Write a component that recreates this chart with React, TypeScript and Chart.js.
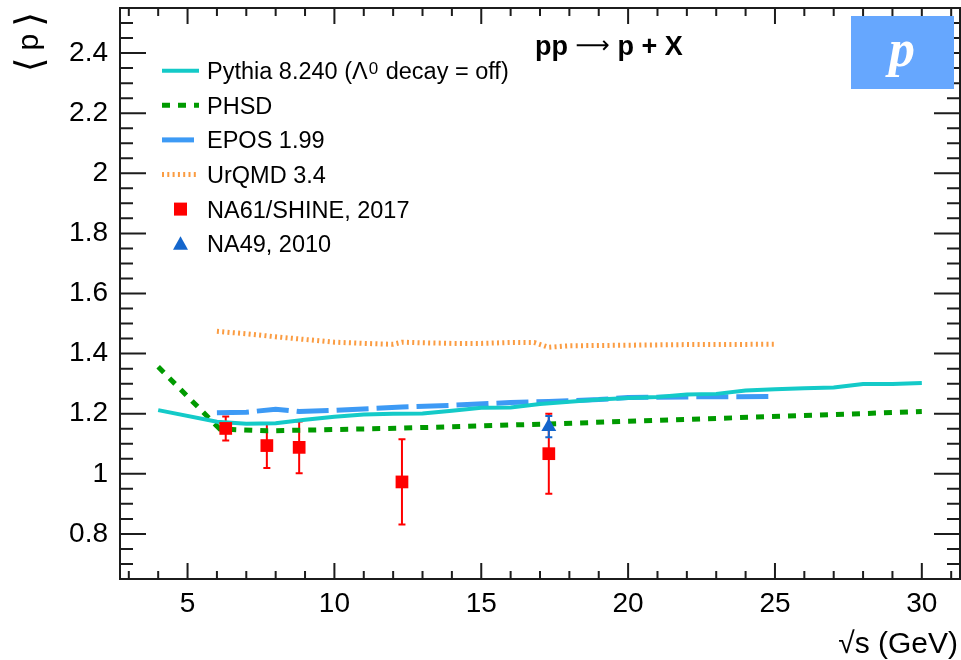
import React, { useEffect, useRef } from "react";
import { Chart, registerables } from "chart.js";

Chart.register(...registerables);

// ---------- data ----------
const xTickValues = [5, 10, 15, 20, 25, 30];
const yTickValues = [0.8, 1, 1.2, 1.4, 1.6, 1.8, 2, 2.2, 2.4];

const pythiaX = [4, 6, 7, 8, 9, 10, 11, 12, 13, 14, 15, 16, 17, 18, 19, 20, 21, 22, 23, 24, 25, 26, 27, 28, 29, 30];
const pythiaY = [1.212, 1.173, 1.167, 1.168, 1.18, 1.19, 1.197, 1.2, 1.201, 1.21, 1.22, 1.221, 1.232, 1.24, 1.247, 1.252, 1.256, 1.264, 1.266, 1.277, 1.281, 1.285, 1.287, 1.299, 1.299, 1.302];

const phsdX = [4, 6.1, 7.7, 8.8, 12.3, 17.3, 30];
const phsdY = [1.356, 1.149, 1.143, 1.145, 1.152, 1.166, 1.207];

const eposX = [6, 7, 8, 8.8, 10, 12.3, 14, 16, 17.3, 19, 20, 22, 25];
const eposY = [1.203, 1.205, 1.215, 1.207, 1.211, 1.222, 1.228, 1.237, 1.241, 1.247, 1.254, 1.256, 1.257];

const urqmdX = [6, 7, 8, 9, 10, 11, 12, 12.3, 13, 14, 15, 16, 16.8, 17.3, 18, 20, 22, 25];
const urqmdY = [1.474, 1.466, 1.456, 1.447, 1.438, 1.434, 1.431, 1.438, 1.436, 1.434, 1.434, 1.437, 1.437, 1.421, 1.426, 1.428, 1.43, 1.431];

const na61X = [6.3, 7.7, 8.8, 12.3, 17.3];
const na61Y = [1.151, 1.094, 1.088, 0.973, 1.067];
const na61Err = [0.04, 0.075, 0.086, 0.142, 0.133];

const na49X = [17.3];
const na49Y = [1.157];
const na49Err = [0.035];

const labels = [
  "Pythia 8.240 (Λ^{0} decay = off)",
  "PHSD",
  "EPOS 1.99",
  "UrQMD 3.4",
  "NA61/SHINE, 2017",
  "NA49, 2010",
];

// ---------- styling ----------
const FONT = '"Liberation Sans", Arial, Helvetica, sans-serif';
const C_PYTHIA = "#14cac8";
const C_PHSD = "#009a00";
const C_EPOS = "#3d9af5";
const C_URQMD = "#fb9c42";
const C_NA61 = "#ff0000";
const C_NA49 = "#1466cc";
const FRAME = "#1c1c1c";

const pts = (xs: number[], ys: number[]) => xs.map((x, i) => ({ x, y: ys[i] }));

const rootPlugin = {
  id: "rootStyle",
  beforeDatasetsDraw(chart: any) {
    const ctx = chart.ctx;
    const xs = chart.scales.x;
    const ys = chart.scales.y;
    const drawErr = (X: number[], Y: number[], E: number[], color: string) => {
      ctx.save();
      ctx.strokeStyle = color;
      ctx.lineWidth = 2;
      X.forEach((x, i) => {
        const px = xs.getPixelForValue(x);
        const p1 = ys.getPixelForValue(Y[i] - E[i]);
        const p2 = ys.getPixelForValue(Y[i] + E[i]);
        ctx.beginPath();
        ctx.moveTo(px, p1);
        ctx.lineTo(px, p2);
        ctx.moveTo(px - 3.5, p1);
        ctx.lineTo(px + 3.5, p1);
        ctx.moveTo(px - 3.5, p2);
        ctx.lineTo(px + 3.5, p2);
        ctx.stroke();
      });
      ctx.restore();
    };
    drawErr(na61X, na61Y, na61Err, C_NA61);
    drawErr(na49X, na49Y, na49Err, C_NA49);
  },
  afterDraw(chart: any) {
    const ctx = chart.ctx;
    const { left, right, top, bottom } = chart.chartArea;
    const xs = chart.scales.x;
    const ys = chart.scales.y;
    ctx.save();
    // frame
    ctx.strokeStyle = FRAME;
    ctx.lineWidth = 2;
    ctx.strokeRect(left, top, right - left, bottom - top);
    // x ticks (bottom & top)
    ctx.beginPath();
    for (let v = Math.ceil(xs.min); v <= xs.max; v += 1) {
      const px = xs.getPixelForValue(v);
      const major = xTickValues.includes(v);
      const len = major ? 16 : 8;
      ctx.moveTo(px, bottom);
      ctx.lineTo(px, bottom - len);
      ctx.moveTo(px, top);
      ctx.lineTo(px, top + len);
    }
    // y ticks (left & right)
    for (let k = Math.ceil(ys.min / 0.05 - 1e-6); k * 0.05 <= ys.max + 1e-6; k++) {
      const v = Math.round(k * 5) / 100;
      const py = ys.getPixelForValue(v);
      const major = yTickValues.some((t) => Math.abs(t - v) < 1e-6);
      const len = major ? 26 : 13;
      ctx.moveTo(left, py);
      ctx.lineTo(left + len, py);
      ctx.moveTo(right, py);
      ctx.lineTo(right - len, py);
    }
    ctx.stroke();

    // particle box
    ctx.fillStyle = "#66a7fe";
    ctx.fillRect(right - 109, top + 8, 103, 73);
    ctx.fillStyle = "#ffffff";
    ctx.font = 'italic bold 52px "Liberation Serif", "DejaVu Serif", serif';
    ctx.textAlign = "center";
    ctx.textBaseline = "alphabetic";
    ctx.fillText("p", right - 58, top + 58);

    // title
    ctx.fillStyle = "#000";
    ctx.textAlign = "left";
    let tx = left + 415;
    const ty = top + 47;
    ctx.font = `bold 27px ${FONT}`;
    ctx.fillText("pp ", tx, ty);
    tx += ctx.measureText("pp ").width;
    ctx.font = `24px "DejaVu Sans", sans-serif`;
    ctx.fillText("⟶", tx, ty - 2);
    tx += ctx.measureText("⟶").width;
    ctx.font = `bold 27px ${FONT}`;
    ctx.fillText(" p + X", tx, ty);

    // legend
    const ds = chart.data.datasets;
    const lx0 = left + 42;
    const lx1 = left + 79;
    const textX = left + 87;
    ds.forEach((d: any, i: number) => {
      const cy = top + 62.7 + i * 34.6;
      ctx.save();
      if (d.showLine !== false) {
        ctx.strokeStyle = d.borderColor;
        ctx.lineWidth = d.borderWidth;
        ctx.setLineDash(d.borderDash || []);
        ctx.lineCap = "butt";
        ctx.beginPath();
        ctx.moveTo(lx0, cy);
        ctx.lineTo(lx1, cy);
        ctx.stroke();
      } else {
        ctx.fillStyle = d.backgroundColor;
        const mx = (lx0 + lx1) / 2;
        if (d.pointStyle === "rect") {
          ctx.fillRect(mx - 6.5, cy - 6.5, 13, 13);
        } else {
          ctx.beginPath();
          ctx.moveTo(mx, cy - 7.5);
          ctx.lineTo(mx + 7.5, cy + 6);
          ctx.lineTo(mx - 7.5, cy + 6);
          ctx.closePath();
          ctx.fill();
        }
      }
      ctx.restore();
      // text with optional superscript
      ctx.fillStyle = "#000";
      ctx.textAlign = "left";
      ctx.textBaseline = "alphabetic";
      const base = cy + 8.5;
      const parts = String(d.label).split(/(\^\{[^}]*\})/);
      let x = textX;
      parts.forEach((p: string) => {
        if (!p) return;
        const m = p.match(/^\^\{([^}]*)\}$/);
        if (m) {
          ctx.font = `17px ${FONT}`;
          ctx.fillText(m[1], x + 1, base - 5);
          x += ctx.measureText(m[1]).width + 2;
        } else {
          ctx.font = `23.5px ${FONT}`;
          ctx.fillText(p, x, base);
          x += ctx.measureText(p).width;
        }
      });
    });

    // axis titles
    ctx.fillStyle = "#000";
    ctx.font = `30px ${FONT}`;
    ctx.textAlign = "right";
    ctx.textBaseline = "alphabetic";
    ctx.fillText("√s (GeV)", right - 2, 653);

    // y title: ⟨ p ⟩ rotated
    ctx.save();
    ctx.translate(30, top + 4);
    ctx.rotate(-Math.PI / 2);
    ctx.textBaseline = "middle";
    ctx.textAlign = "left";
    const bracketFont = `38px "DejaVu Sans", sans-serif`;
    const pFont = `30px ${FONT}`;
    ctx.font = bracketFont;
    const wl = ctx.measureText("⟨").width;
    const wr = ctx.measureText("⟩").width;
    ctx.font = pFont;
    const wp = ctx.measureText("p").width;
    const gap = 7;
    const total = wl + gap + wp + gap + wr;
    let yx = -total;
    ctx.font = bracketFont;
    ctx.fillText("⟨", yx, 2);
    yx += wl + gap;
    ctx.font = pFont;
    ctx.fillText("p", yx, 0);
    yx += wp + gap;
    ctx.font = bracketFont;
    ctx.fillText("⟩", yx, 2);
    ctx.restore();

    ctx.restore();
  },
};

export default function App() {
  const ref = useRef<HTMLCanvasElement | null>(null);
  useEffect(() => {
    if (!ref.current) return;
    const zeroPad = (s: any) => {
      s.paddingTop = 0;
      s.paddingBottom = 0;
      s.paddingLeft = 0;
      s.paddingRight = 0;
    };
    const chart = new Chart(ref.current, {
      type: "line",
      data: {
        datasets: [
          {
            label: labels[0],
            data: pts(pythiaX, pythiaY),
            borderColor: C_PYTHIA,
            backgroundColor: C_PYTHIA,
            borderWidth: 4,
            pointRadius: 0,
            order: 2,
          },
          {
            label: labels[1],
            data: pts(phsdX, phsdY),
            borderColor: C_PHSD,
            backgroundColor: C_PHSD,
            borderWidth: 5,
            borderDash: [8, 8],
            pointRadius: 0,
            order: 3,
          },
          {
            label: labels[2],
            data: pts(eposX, eposY),
            borderColor: C_EPOS,
            backgroundColor: C_EPOS,
            borderWidth: 5,
            borderDash: [32, 8],
            pointRadius: 0,
            order: 4,
          },
          {
            label: labels[3],
            data: pts(urqmdX, urqmdY),
            borderColor: C_URQMD,
            backgroundColor: C_URQMD,
            borderWidth: 5,
            borderDash: [2, 3.3],
            pointRadius: 0,
            order: 5,
          },
          {
            label: labels[4],
            data: pts(na61X, na61Y),
            showLine: false,
            pointStyle: "rect",
            pointRadius: 9,
            borderWidth: 0,
            borderColor: C_NA61,
            backgroundColor: C_NA61,
            order: 0,
          },
          {
            label: labels[5],
            data: pts(na49X, na49Y),
            showLine: false,
            pointStyle: "triangle",
            pointRadius: 8.6,
            borderWidth: 0,
            borderColor: C_NA49,
            backgroundColor: C_NA49,
            order: 1,
          },
        ] as any,
      },
      options: {
        animation: false,
        responsive: false,
        devicePixelRatio: 1,
        events: [],
        layout: { autoPadding: false, padding: { top: 8, right: 1, left: 0, bottom: 0 } },
        plugins: { legend: { display: false }, tooltip: { enabled: false } },
        scales: {
          x: {
            type: "linear",
            min: 2.7,
            max: 31.3,
            grid: { display: false, drawTicks: false },
            border: { display: false },
            ticks: {
              font: { family: FONT, size: 28 },
              color: "#000",
              padding: 8,
              maxRotation: 0,
              autoSkip: false,
            },
            afterBuildTicks: (s: any) => {
              s.ticks = xTickValues.map((v) => ({ value: v }));
            },
            afterFit: (s: any) => {
              s.height = 81;
              zeroPad(s);
            },
          },
          y: {
            type: "linear",
            min: 0.65,
            max: 2.55,
            grid: { display: false, drawTicks: false },
            border: { display: false },
            ticks: {
              font: { family: FONT, size: 28 },
              color: "#000",
              padding: 12,
              autoSkip: false,
              callback: (v: any) => String(parseFloat(Number(v).toFixed(2))),
            },
            afterBuildTicks: (s: any) => {
              s.ticks = yTickValues.map((v) => ({ value: v }));
            },
            afterFit: (s: any) => {
              s.width = 120;
              zeroPad(s);
            },
          },
        },
      } as any,
      plugins: [rootPlugin],
    });
    return () => chart.destroy();
  }, []);

  return (
    <div style={{ position: "fixed", left: 0, top: 0, width: 961, height: 660, background: "#fff" }}>
      <canvas ref={ref} width={961} height={660} style={{ display: "block", width: 961, height: 660 }} />
    </div>
  );
}
